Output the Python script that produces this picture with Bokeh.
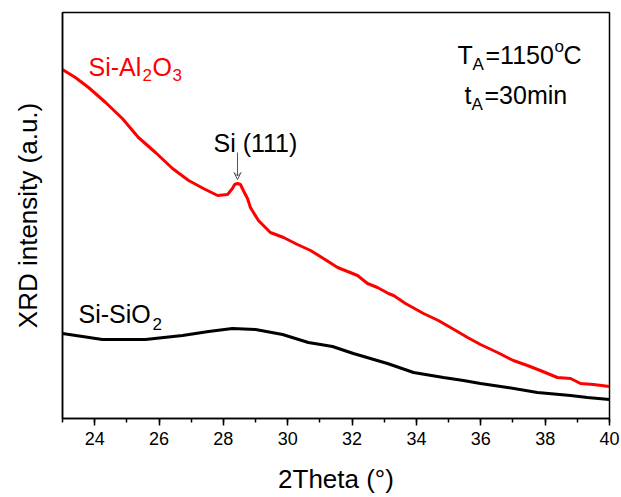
import math
from bokeh.plotting import figure
from bokeh.models import Label, Arrow, VeeHead, SingleIntervalTicker, FixedTicker, Range1d
from bokeh.embed import file_html
from bokeh.resources import INLINE

# ---- data ----
two_theta_al2o3 = [23.00, 23.40, 23.81, 24.34, 24.86, 25.36, 25.89, 26.42, 26.92, 27.38,
                   27.82, 28.13, 28.28, 28.35, 28.44, 28.53, 28.62, 28.75, 28.84, 29.09,
                   29.46, 29.87, 30.30, 30.71, 31.11, 31.55, 32.17, 32.48, 32.79, 33.13,
                   33.29, 33.66, 34.22, 34.68, 35.06, 35.59, 35.99, 36.52, 37.01, 37.45,
                   37.85, 38.38, 38.79, 39.10, 39.50, 40.00]
intensity_al2o3 = [349, 341, 331, 316, 300, 281, 266, 250, 238, 230,
                   223, 224, 230, 234, 235, 234, 228, 220, 211, 198,
                   186, 181, 174, 168, 160, 151, 143, 135, 131, 125,
                   123, 115, 105, 98, 91, 81, 74, 66, 58, 53,
                   48, 41, 40, 35, 34, 32]

two_theta_sio2 = [23.00, 23.62, 24.24, 24.90, 25.58, 26.15, 26.73, 27.54, 28.28, 29.00,
                  29.84, 30.64, 31.02, 31.39, 32.04, 33.10, 33.91, 34.84, 35.46, 35.99,
                  36.83, 37.76, 38.79, 39.31, 40.00]
intensity_sio2 = [85, 82, 79, 79, 79, 81, 83, 87, 90, 89,
                  84, 76, 74, 72, 65, 55, 46, 41, 38, 35,
                  31, 26, 23, 21, 19]

x_ticks_major = 2
x_min, x_max = 23, 40
y_min, y_max = 0, 406

FONT = "Liberation Sans"
W, H = 621, 497
L, R, T, B = 62, 12, 12, 79

p = figure(width=W, height=H, output_backend="svg", toolbar_location=None,
           x_range=Range1d(x_min, x_max), y_range=Range1d(y_min, y_max),
           min_border_left=L, min_border_right=R, min_border_top=T, min_border_bottom=B)
p.grid.visible = False
p.outline_line_color = "black"
p.outline_line_width = 1.5
p.background_fill_color = "white"
p.border_fill_color = "white"

ax = p.xaxis[0]
ax.ticker = SingleIntervalTicker(interval=x_ticks_major, num_minor_ticks=2)
ax.axis_line_color = "black"
ax.axis_line_width = 1.5
ax.major_tick_line_color = "black"
ax.major_tick_line_width = 1.5
ax.minor_tick_line_color = "black"
ax.minor_tick_line_width = 1.5
ax.major_tick_out = 7
ax.major_tick_in = 0
ax.minor_tick_out = 4
ax.minor_tick_in = 0
ax.major_label_text_font = FONT
ax.major_label_text_font_size = "18px"
ax.major_label_text_color = "black"
ax.major_label_standoff = 6
ax.axis_label = "2Theta (°)"
ax.axis_label_text_font = FONT
ax.axis_label_text_font_size = "26px"
ax.axis_label_text_font_style = "normal"
ax.axis_label_text_color = "black"
ax.axis_label_standoff = 16

ay = p.yaxis[0]
ay.ticker = FixedTicker(ticks=[])
ay.major_tick_out = 0
ay.major_tick_in = 0
ay.minor_tick_out = 0
ay.minor_tick_in = 0
ay.major_label_text_font_size = "0px"
ay.axis_line_color = "black"
ay.axis_line_width = 1.5
ay.axis_label = "XRD intensity (a.u.)"
ay.axis_label_text_font = FONT
ay.axis_label_text_font_size = "26px"
ay.axis_label_text_font_style = "normal"
ay.axis_label_text_color = "black"
ay.axis_label_standoff = 20

p.line(two_theta_al2o3, intensity_al2o3, line_color="#ff0000", line_width=3)
p.line(two_theta_sio2, intensity_sio2, line_color="black", line_width=3)

# pixel -> data helpers for text placement
fw = W - L - R
fh = H - T - B
def X(px):
    return x_min + (px - L) * (x_max - x_min) / fw
def Y(py):
    return y_min + (H - B - py) * (y_max - y_min) / fh

def txt(s, px, py, size, color="black", angle=0.0):
    p.add_layout(Label(x=X(px), y=Y(py), text=s, text_font=FONT,
                       text_font_size=f"{size}px", text_color=color,
                       text_align="left", text_baseline="alphabetic", angle=angle))

BIG, SUB = 25, 17

# Si-Al2O3 (red)
txt("Si-Al", 88, 66, BIG, "#ff0000")
txt("2", 142, 74, SUB, "#ff0000")
txt("O", 152, 66, BIG, "#ff0000")
txt("3", 172, 74, SUB, "#ff0000")

# Si-SiO2
txt("Si-SiO", 78, 313, BIG)
txt("2", 152, 323, SUB)

# Si (111)
txt("Si (111)", 213, 142, BIG)
p.add_layout(Arrow(end=VeeHead(size=7, line_color="#555555", line_width=1, fill_color=None),
                   x_start=X(237), y_start=Y(152), x_end=X(237), y_end=Y(179),
                   line_color="#555555", line_width=1))

# T_A = 1150 oC
txt("T", 457, 54, BIG)
txt("A", 472, 64, SUB)
txt("=1150", 485, 54, BIG)
txt("o", 554, 46, SUB)
txt("C", 563, 54, BIG)

# t_A = 30min
txt("t", 464, 94, BIG)
txt("A", 471, 104, SUB)
txt("=30min", 484, 94, BIG)

open("out.html", "w").write(file_html(p, INLINE))
